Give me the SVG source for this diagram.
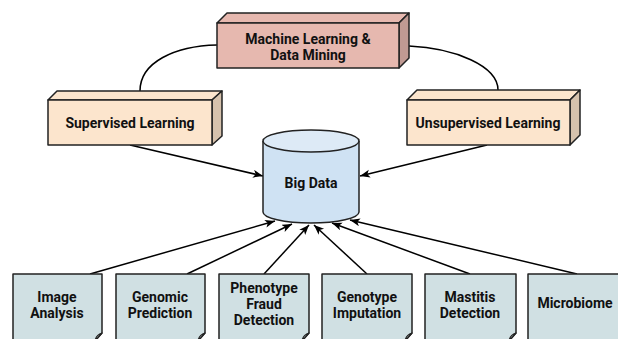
<svg xmlns="http://www.w3.org/2000/svg" width="618" height="339" viewBox="0 0 618 339">
<defs>
<style>
.t{font-family:Roboto,"Liberation Sans",sans-serif;font-weight:bold;font-size:14px;fill:#111;text-anchor:middle}
.e{stroke:#222;stroke-width:1.5;stroke-linejoin:round}
.c{fill:none;stroke:#000;stroke-width:1.5}
.doc{fill:#d0e0e3}
.fold{fill:#a9b6b8;stroke:#222;stroke-width:1.2;stroke-linejoin:round}
</style>
<marker id="ah" markerUnits="userSpaceOnUse" markerWidth="12" markerHeight="10" refX="10" refY="4" orient="auto">
<path d="M0,0 L10,4 L0,8 L2.5,4 z" fill="#000"/>
</marker>
</defs>
<g id="connectors">
<path class="c" d="M217,45 C175,46 140,62 140,91"/>
<path class="c" d="M409,46 C455,48 498,66 498,90"/>
<path class="c" d="M130,145 L263,176" marker-end="url(#ah)"/>
<path class="c" d="M487,145 L360,176" marker-end="url(#ah)"/>
<path class="c" d="M90,274 L275,221" marker-end="url(#ah)"/>
<path class="c" d="M187,274 L292,224" marker-end="url(#ah)"/>
<path class="c" d="M264,274 L309,225" marker-end="url(#ah)"/>
<path class="c" d="M367,274 L314,225" marker-end="url(#ah)"/>
<path class="c" d="M470,274 L332,223" marker-end="url(#ah)"/>
<path class="c" d="M577,274 L350,220" marker-end="url(#ah)"/>
</g>
<g id="ml">
<polygon class="e" fill="#e6b8af" points="217,23 227,13 409,13 399,23"/>
<polygon class="e" fill="#c09a93" points="399,23 409,13 409,58 399,68"/>
<rect class="e" fill="#e6b8af" x="217" y="23" width="182" height="45"/>
<text class="t" x="308" y="44">Machine Learning &amp;</text>
<text class="t" x="308" y="60">Data Mining</text>
</g>
<g id="supervised">
<polygon class="e" fill="#fce5cd" points="48,100 57,91 222,91 212,100"/>
<polygon class="e" fill="#d6c2ad" points="212,100 222,91 222,136 212,145"/>
<rect class="e" fill="#fce5cd" x="48" y="100" width="164" height="45"/>
<text class="t" x="130" y="128">Supervised Learning</text>
</g>
<g id="unsupervised">
<polygon class="e" fill="#fce5cd" points="407,100 417,90 580,90 570,100"/>
<polygon class="e" fill="#d6c2ad" points="570,100 580,90 580,135 570,145"/>
<rect class="e" fill="#fce5cd" x="407" y="100" width="163" height="45"/>
<text class="t" x="488" y="128">Unsupervised Learning</text>
</g>
<g id="bigdata">
<path class="e" fill="#cfe2f3" d="M263,141 V212 A48,11 0 0 0 359,212 V141"/>
<ellipse class="e" fill="#ddeaf6" cx="311" cy="141" rx="48" ry="11"/>
<text class="t" x="311" y="188">Big Data</text>
</g>
<g id="image">
<path class="e doc" d="M13,274 H102 V333 L95,341 H13 Z"/>
<path class="fold" d="M102,333 L95,341 Q96,335 102,333 Z"/>
<text class="t" x="57" y="302">Image</text>
<text class="t" x="57" y="318">Analysis</text>
</g>
<g id="genomic">
<path class="e doc" d="M116,274 H205 V333 L198,341 H116 Z"/>
<path class="fold" d="M205,333 L198,341 Q199,335 205,333 Z"/>
<text class="t" x="160" y="302">Genomic</text>
<text class="t" x="160" y="318">Prediction</text>
</g>
<g id="phenotype">
<path class="e doc" d="M219,274 H309 V333 L302,341 H219 Z"/>
<path class="fold" d="M309,333 L302,341 Q303,335 309,333 Z"/>
<text class="t" x="264" y="293">Phenotype</text>
<text class="t" x="264" y="309">Fraud</text>
<text class="t" x="264" y="325">Detection</text>
</g>
<g id="genotype">
<path class="e doc" d="M322,274 H412 V333 L405,341 H322 Z"/>
<path class="fold" d="M412,333 L405,341 Q406,335 412,333 Z"/>
<text class="t" x="367" y="302">Genotype</text>
<text class="t" x="367" y="318">Imputation</text>
</g>
<g id="mastitis">
<path class="e doc" d="M425,274 H516 V333 L509,341 H425 Z"/>
<path class="fold" d="M516,333 L509,341 Q510,335 516,333 Z"/>
<text class="t" x="470" y="302">Mastitis</text>
<text class="t" x="470" y="318">Detection</text>
</g>
<g id="microbiome">
<path class="e doc" d="M528,274 H622 V345 H528 Z"/>
<text class="t" x="575" y="308">Microbiome</text>
</g>
</svg>
